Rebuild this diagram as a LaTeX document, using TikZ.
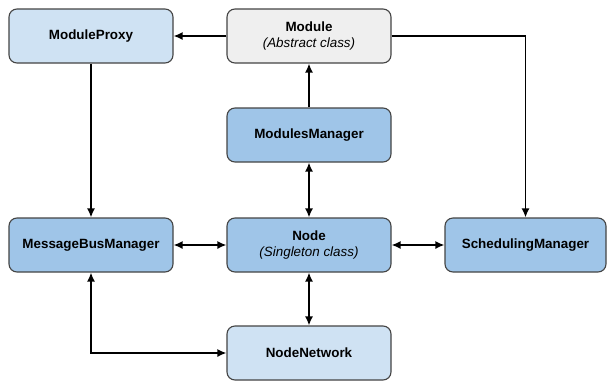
\documentclass[tikz,border=0pt]{standalone}
\usepackage{fontspec}
\setmainfont{Liberation Sans}
\usepackage{xcolor}
\usetikzlibrary{arrows.meta,positioning,calc}

\definecolor{lightblue}{HTML}{CFE2F3}
\definecolor{midblue}{HTML}{9FC5E8}
\definecolor{lightgray}{HTML}{EFEFEF}
\definecolor{edgegray}{HTML}{444444}

\tikzset{
	box/.style={draw=edgegray,line width=1.1pt,rounded corners=8pt,
		minimum width=164pt,minimum height=54pt,align=center,
		font=\fontsize{13.4}{16.5}\selectfont},
	lightbox/.style={box,fill=lightblue},
	darkbox/.style={box,fill=midblue},
	graybox/.style={box,fill=lightgray},
	link/.style={line width=1.6pt,-{Latex[length=9pt,width=8pt]}},
	dlink/.style={line width=1.6pt,{Latex[length=9pt,width=8pt]}-{Latex[length=9pt,width=8pt]}}
}

\begin{document}
\begin{tikzpicture}[x=1pt,y=-1pt]
		\useasboundingbox (0,0) rectangle (608,381);
		% boxes
		\node[lightbox] (proxy) at (91,36) {\textbf{ModuleProxy}};
		\node[graybox] (module) at (309,36) {\textbf{Module}\\\textit{(Abstract class)}};
		\node[darkbox] (manager) at (309,135) {\textbf{ModulesManager}};
		\node[darkbox] (bus) at (91,245) {\textbf{MessageBusManager}};
		\node[darkbox] (core) at (309,245) {\textbf{Node}\\\textit{(Singleton class)}};
		\node[darkbox,minimum width=161pt] (sched) at (525.5,245) {\textbf{SchedulingManager}};
		\node[lightbox] (network) at (309,353) {\textbf{NodeNetwork}};
		% connectors
		\draw[link] (module) -- (proxy);
		\draw[link] (manager) -- (module);
		\draw[link] (module.east) -| (sched.north);
		\draw[link] (proxy) -- (bus);
		\draw[dlink] (manager) -- (core);
		\draw[dlink] (bus) -- (core);
		\draw[dlink] (core) -- (sched);
		\draw[dlink] (core) -- (network);
		\draw[dlink] (bus.south) |- (network.west);
	\end{tikzpicture}
\end{document}
